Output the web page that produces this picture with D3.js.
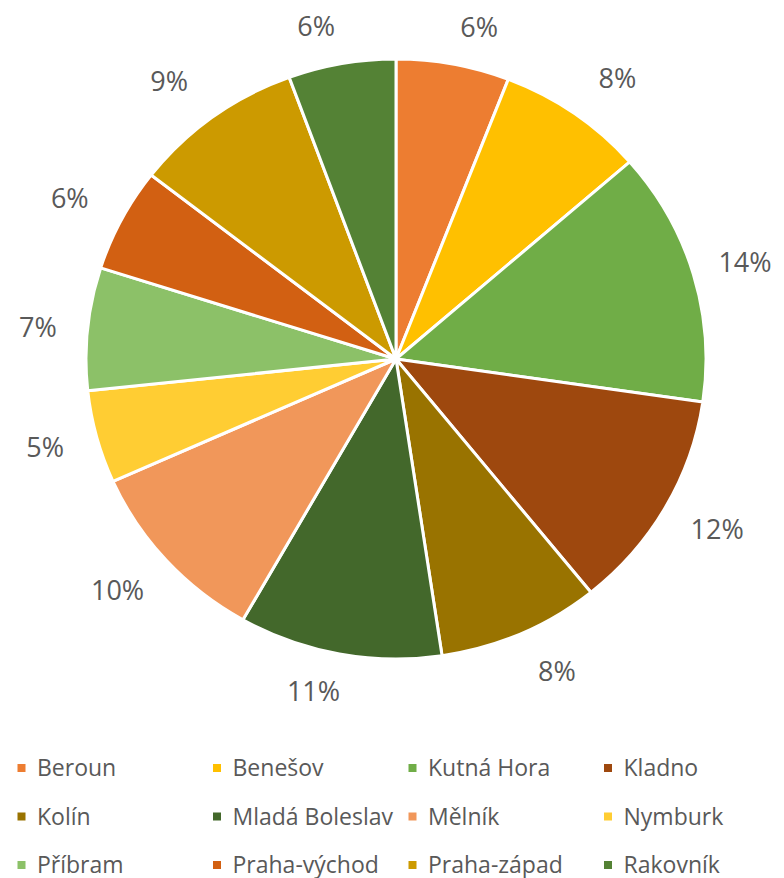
<!DOCTYPE html>
<html>
<head>
<meta charset="utf-8">
<script src="https://cdn.jsdelivr.net/npm/d3@7"></script>
<style>
  body { margin: 0; background: #ffffff; }
  svg { display: block; }
  text { font-family: "Open Sans", "Noto Sans", sans-serif; fill: #595959; }
</style>
</head>
<body>
<svg></svg>
<script>
let width = 784;
let height = 878;

// districts, clockwise from 12 o'clock
let districts = ["Beroun", "Benešov", "Kutná Hora", "Kladno", "Kolín", "Mladá Boleslav",
                 "Mělník", "Nymburk", "Příbram", "Praha-východ", "Praha-západ", "Rakovník"];
let shares = [5.9, 7.7, 13.7, 11.9, 8.45, 10.6, 10.1, 5.0, 6.6, 5.6, 8.9, 5.6];
let colours = ["#ed7d31", "#ffc000", "#70ad47", "#9e480e", "#997300", "#43682b",
               "#f1975a", "#ffcd33", "#8cc168", "#d26012", "#cc9a00", "#548235"];

let data = districts.map((d, i) => ({name: d, value: shares[i]}));

// the source picture is slightly squashed vertically
let cx = 396, cy = 359, rx = 310, ry = 300;

let svg = d3.select("svg")
  .attr("width", width)
  .attr("height", height);

let pie = d3.pie().sort(null).value(d => d.value);
let arc = d3.arc().innerRadius(0).outerRadius(rx);
let colour = d3.scaleOrdinal().domain(districts).range(colours);
let total = d3.sum(shares);
let arcs = pie(data);

let g = svg.append("g")
  .attr("transform", "translate(" + cx + "," + cy + ") scale(1," + (ry / rx) + ")");

g.selectAll("path.slice")
  .data(arcs)
  .enter()
  .append("path")
    .attr("class", "slice")
    .attr("d", arc)
    .attr("vector-effect", "non-scaling-stroke")
    .style("fill", d => colour(d.data.name))
    .style("stroke", "#ffffff")
    .style("stroke-width", 3)
    .style("stroke-linejoin", "round");

// percent labels outside the rim, nudged sideways like the spreadsheet does
let labelSize = 27;

svg.selectAll("text.pct")
  .data(arcs)
  .enter()
  .append("text")
    .attr("class", "pct")
    .attr("text-anchor", "middle")
    .style("font-size", labelSize + "px")
    .attr("x", d => {
      let a = (d.startAngle + d.endAngle) / 2;
      let s = Math.sin(a), c = Math.cos(a);
      return cx + (rx + 31) * s + 17 * Math.sign(s) + 18 * s * Math.abs(c);
    })
    .attr("y", d => {
      let a = (d.startAngle + d.endAngle) / 2;
      let s = Math.sin(a), c = Math.cos(a);
      return cy - (ry + 39) * c - 16 * c * Math.abs(s) + 4 * Math.sign(c) + labelSize * 0.357;
    })
    .text(d => Math.round(d.data.value / total * 100) + "%");

// legend
let legendX = 17.5, legendY = 768, colW = 195.5, rowH = 48.5;

let legend = svg.selectAll(".legend")
  .data(districts)
  .enter()
  .append("g")
    .attr("class", "legend")
    .attr("transform", (d, i) => "translate(" + (legendX + (i % 4) * colW) + "," + (legendY + Math.floor(i / 4) * rowH) + ")");

legend.append("rect")
  .attr("x", 0)
  .attr("y", -4)
  .attr("width", 8)
  .attr("height", 8)
  .style("fill", d => colour(d));

legend.append("text")
  .attr("x", 19.5)
  .attr("y", 0)
  .attr("dy", "0.35em")
  .style("font-size", "23px")
  .text(d => d);
</script>
</body>
</html>
